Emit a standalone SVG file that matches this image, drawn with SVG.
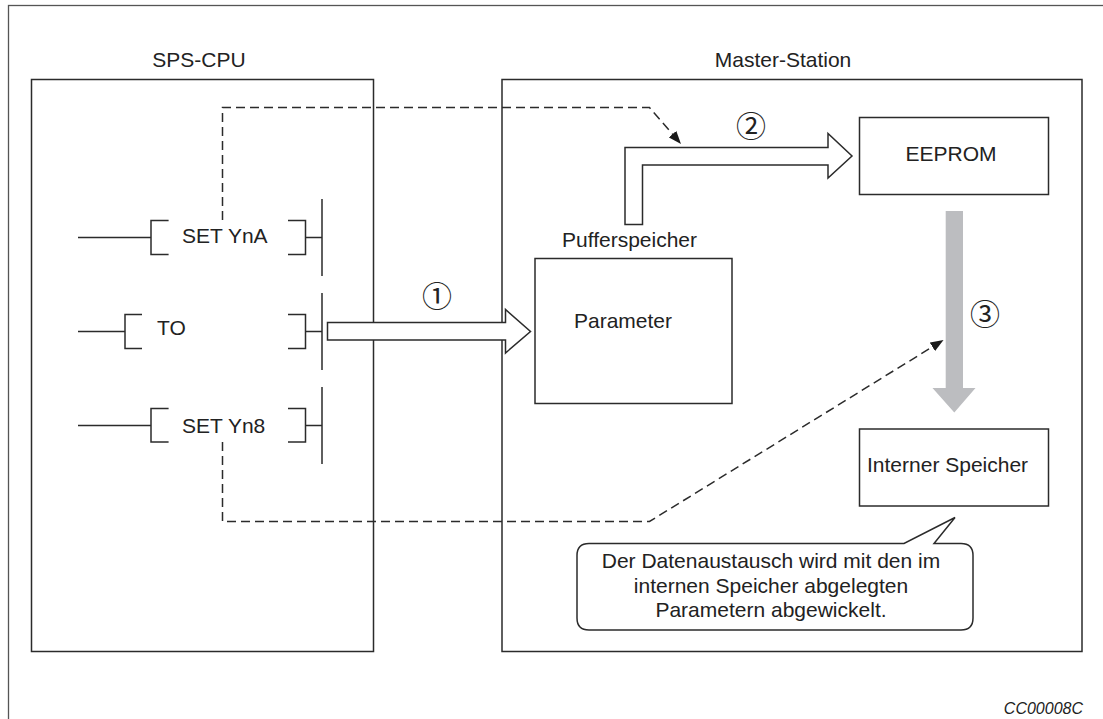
<svg xmlns="http://www.w3.org/2000/svg" width="1103" height="719" viewBox="0 0 1103 719">
<defs>
<style>
.ln{fill:none;stroke:#2b2b2b;stroke-width:1.5}
.bx{fill:#fff;stroke:#2b2b2b;stroke-width:1.5}
.ds{fill:none;stroke:#2b2b2b;stroke-width:1.5;stroke-dasharray:9 5}
.t{font-family:"Liberation Sans",Arial,sans-serif;font-size:21px;fill:#222}
.c{text-anchor:middle}
.num{font-family:"Noto Sans CJK JP","DejaVu Sans",sans-serif;font-size:30px;fill:#222;text-anchor:middle}
</style>
<marker id="ah" viewBox="0 0 13 10" refX="13" refY="5" markerWidth="13" markerHeight="10" orient="auto" markerUnits="userSpaceOnUse">
<path d="M0,0 L13,5 L0,10 z" fill="#1a1a1a"/>
</marker>
</defs>
<rect x="0" y="0" width="1103" height="719" fill="#fff"/>
<rect x="8.5" y="5.5" width="1200" height="800" fill="none" stroke="#555" stroke-width="1.3"/>

<g id="sps-cpu">
<text class="t c" x="199" y="67">SPS-CPU</text>
<rect class="bx" x="31.5" y="79.5" width="342" height="572"/>
</g>

<g id="master-station">
<text class="t c" x="783" y="67">Master-Station</text>
<rect class="bx" x="502" y="79.5" width="580" height="572"/>
</g>

<g id="rung-ynA">
<path class="ln" d="M78,237.5 H151 M168.6,220.5 H151 V254.5 H168.6 M288,220.5 H305.5 V254.5 H288 M305.5,237.5 H322"/>
<text class="t" x="182" y="243">SET YnA</text>
</g>
<g id="rung-to">
<path class="ln" d="M78,331.5 H125 M142,314.5 H125 V348.5 H142 M288,314.5 H305.5 V348.5 H288 M305.5,331.5 H322"/>
<text class="t" x="157" y="335">TO</text>
</g>
<g id="rung-yn8">
<path class="ln" d="M78,425.5 H151 M168.6,408.5 H151 V442 H168.6 M288,408.5 H305.5 V442 H288 M305.5,425.5 H322"/>
<text class="t" x="182" y="433">SET Yn8</text>
</g>
<g id="bus">
<path class="ln" d="M322,199 V276 M322,293 V370 M322,387 V464"/>
</g>

<g id="pufferspeicher">
<text class="t" x="562" y="247">Pufferspeicher</text>
<rect class="bx" x="535" y="258.5" width="197" height="145"/>
<text class="t" x="574" y="328">Parameter</text>
</g>

<g id="eeprom">
<rect class="bx" x="859.5" y="117.5" width="189" height="77"/>
<text class="t c" x="951" y="161">EEPROM</text>
</g>

<g id="interner-speicher">
<rect class="bx" x="859.5" y="429" width="189" height="77"/>
<text class="t" x="867" y="472">Interner Speicher</text>
</g>

<g id="callout">
<path class="bx" d="M589,543.5 H904 L955,517.5 L934,543.5 H961 Q973,543.5 973,555.5 V618 Q973,630 961,630 H589 Q577,630 577,618 V555.5 Q577,543.5 589,543.5 Z"/>
<text class="t c" x="771" y="568">Der Datenaustausch wird mit den im</text>
<text class="t c" x="771" y="593">internen Speicher abgelegten</text>
<text class="t c" x="771" y="617">Parametern abgewickelt.</text>
</g>

<g id="connectors">
<polygon class="bx" points="327.5,322.5 505.5,322.5 505.5,309.5 530.5,331.5 505.5,353 505.5,340 327.5,340"/>
<text class="num" x="437" y="307">①</text>
<polygon class="bx" points="625,224.5 625,147.5 828,147.5 828,133.5 852,156 828,178 828,165 642.5,165 642.5,224.5"/>
<text class="num" x="751" y="136.5">②</text>
<polygon points="945.7,211 963,211 963,388 975.5,388 954.3,412.5 932.5,388 945.7,388" fill="#bcbdc0"/>
<text class="num" x="985" y="324.5">③</text>
<path class="ds" d="M222.5,220 V107.5 H649.5 L681,144" marker-end="url(#ah)"/>
<path class="ds" d="M222.5,442 V521.5 H649.5 L943.5,340" marker-end="url(#ah)"/>
</g>

<text x="1083" y="714" text-anchor="end" font-family="Liberation Sans,Arial,sans-serif" font-size="16" font-style="italic" fill="#222">CC00008C</text>
</svg>
